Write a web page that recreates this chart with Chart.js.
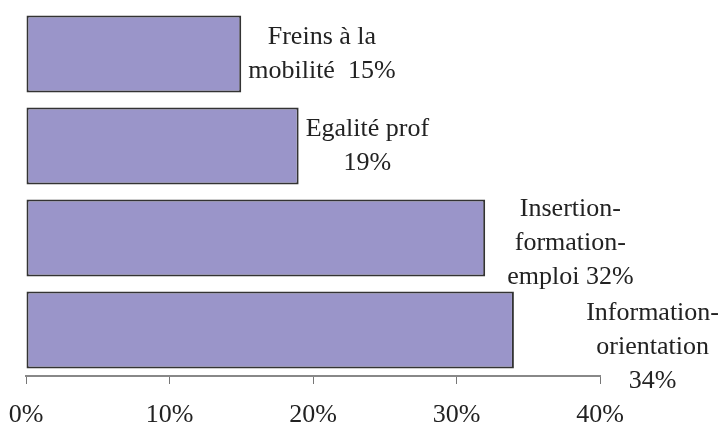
<!DOCTYPE html>
<html lang="fr">
<head>
    <meta charset="UTF-8">
    <title>Répartition des actions</title>
    <script src="https://cdn.jsdelivr.net/npm/chart.js"></script>
    <style>
        body { margin: 0; background: #fff; }
    </style>
</head>
<body>
    <canvas id="chart" width="720" height="425"></canvas>

    <script>
        // Data
        const categories = ['Freins à la mobilité', 'Egalité prof', 'Insertion-formation-emploi', 'Information-orientation'];
        const values = [15, 19, 32, 34];
        // how each label is broken into lines, {v} is replaced by the value
        const labelLines = [
            ['Freins à la', 'mobilité  {v}'],
            ['Egalité prof', '{v}'],
            ['Insertion-', 'formation-', 'emploi {v}'],
            ['Information-', 'orientation', '{v}']
        ];
        const xTicks = [0, 10, 20, 30, 40];

        const serif = '"Liberation Serif", "Times New Roman", serif';
        const textColor = '#222';

        // Draw the multi-line value labels next to each bar
        // (the last two labels were moved by hand in the original, hence the nudges)
        const labelNudge = [[0, 0], [0, 0], [15, 5], [66, 17]];
        const barLabels = {
            id: 'barLabels',
            afterDatasetsDraw(chart) {
                const ctx = chart.ctx;
                const meta = chart.getDatasetMeta(0);
                ctx.save();
                ctx.font = '26px ' + serif;
                ctx.fillStyle = textColor;
                ctx.textAlign = 'center';
                ctx.textBaseline = 'middle';
                const lineH = 34;
                meta.data.forEach((bar, i) => {
                    const lines = labelLines[i].map(s => s.replace('{v}', values[i] + '%'));
                    const w = Math.max(...lines.map(s => ctx.measureText(s).width));
                    let left = bar.x + 7 + labelNudge[i][0];
                    if (left + w > chart.width - 1) left = chart.width - 1 - w;
                    const cx = left + w / 2;
                    const top = bar.y + labelNudge[i][1] - (lines.length - 1) * lineH / 2;
                    lines.forEach((s, k) => ctx.fillText(s, cx, top + k * lineH));
                });
                ctx.restore();
            }
        };

        new Chart(document.getElementById('chart').getContext('2d'), {
            type: 'bar',
            data: {
                labels: categories,
                datasets: [{
                    data: values,
                    backgroundColor: 'rgb(154,149,201)',
                    borderColor: '#333',
                    borderWidth: 2,
                    borderSkipped: false,
                    categoryPercentage: 1,
                    barPercentage: 0.835
                }]
            },
            options: {
                indexAxis: 'y',
                responsive: false,
                animation: false,
                layout: { padding: { top: 8, left: 26, right: 120 } },
                plugins: {
                    legend: { display: false },
                    tooltip: { enabled: false }
                },
                scales: {
                    y: { display: false },
                    x: {
                        min: 0,
                        max: 40,
                        afterBuildTicks: s => { s.ticks = xTicks.map(v => ({ value: v })); },
                        afterFit: s => {
                            s.height = 49;
                            s.paddingLeft = 0;
                            s.paddingRight = 0;
                        },
                        border: { display: true, color: '#888', width: 2 },
                        grid: { drawOnChartArea: false, drawTicks: true, tickLength: 8, color: '#777', lineWidth: 1 },
                        ticks: {
                            padding: 16,
                            color: textColor,
                            font: { family: serif, size: 26 },
                            maxRotation: 0,
                            callback: v => v + '%'
                        }
                    }
                }
            },
            plugins: [barLabels]
        });
    </script>
</body>
</html>
